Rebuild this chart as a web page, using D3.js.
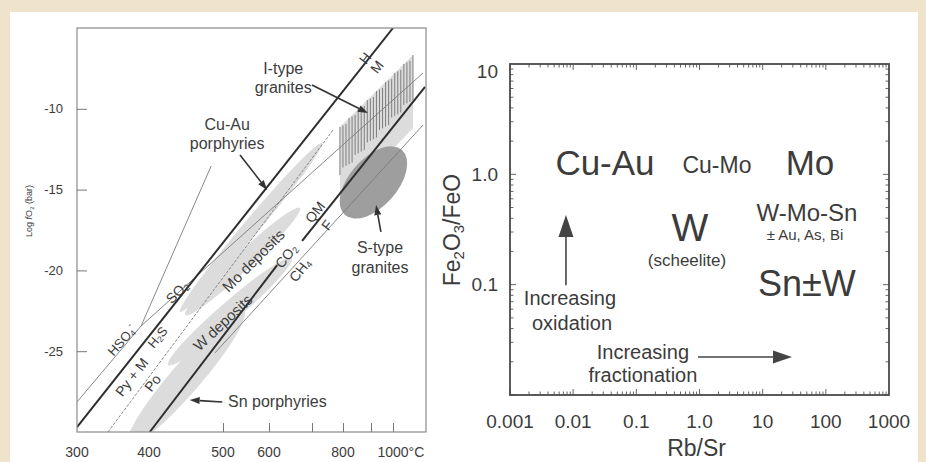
<!DOCTYPE html>
<html><head><meta charset="utf-8">
<script src="https://cdn.jsdelivr.net/npm/d3@7"></script>
<style>
body{margin:0;background:#efe4cb}
svg{display:block}
text{font-family:"Liberation Sans",Arial,Helvetica,sans-serif;fill:#3c3c3c}
</style></head>
<body><svg id="c" width="926" height="462"></svg>
<script>
// ================= DATA : left panel (log fO2 vs T) =================
const tempLabelVals = [300, 400, 500, 600, 800, 1000];
const tempLabelText = ["300", "400", "500", "600", "800", "1000"];
const tempTickMarks = [500, 600, 700, 800, 900, 1000];
const logfO2Ticks = [-10, -15, -20, -25];

// buffer lines, endpoints as [T °C, log fO2]
const thickLines = [
  [[300, -29.7], [1000, -5]],        // HM
  [[401, -30], [619, -19.67]],       // FMQ (below CO2 label)
  [[677, -18.18], [1165, -8.65]]     // FMQ (upper part)
];
const thinLines = [
  [[300, -28.14], [389, -23.44]],    // HSO4- / H2S
  [[389, -23.44], [484, -13.54]],    // HSO4- / SO2
  [[389, -23.44], [1155, -7.78]],    // SO2 / H2S
  [[489, -25.11], [1155, -11.0]]     // CO2 / CH4
];
const dashedLines = [
  [[343, -30], [768, -11.31]]        // Py+M / Po
];
// elongated fields: axis end points [T, logfO2]
const fieldNames = ["Cu-Au porphyries", "Mo deposits", "W deposits", "Sn porphyries"];
const fieldEnds = [
  [[442, -22.57], [732, -12.12]],
  [[449, -22.76], [672, -16.14]],
  [[426, -25.85], [653, -19.23]],
  [[371, -30.8], [546, -22.45]]
];
const sTypeEnds = [[807, -16.57], [1046, -12.55]];
const iTypeField = [[790, -11.13], [1103, -6.67], [1103, -11.19], [790, -15.95]];
const iTypeHatchTop = [[790, -11.13], [1103, -6.67]];
const iTypeHatchBottom = [[790, -14.10], [1103, -9.46]];

const arrowsLeft = [
  [[700, -8.53], [889, -10.26]],     // I-type
  [[537, -12.86], [596, -15.02]],    // Cu-Au
  [[945, -17.62], [923, -15.95]],    // S-type
  [[499, -28.14], [455, -28.02]]     // Sn
];
const plainLabels = ["I-type", "granites", "Cu-Au", "porphyries", "S-type", "granites"];
const plainT = [633, 633, 509, 509, 941, 941];
const plainY = [-7.48, -8.71, -11.0, -12.12, -18.6, -19.79];
const snLabel = {text: "Sn porphyries", T: 511, y: -28.14};

const rotLabels = ["H", "M", "QM", "F", "CO_2", "CH_4", "SO_2", "H_2S", "HSO_4^-", "Py + M", "Po", "Mo deposits", "W deposits"];
const rotT = [879, 927, 710, 748, 640, 672, 438, 411, 362, 376, 405, 565, 499];
const rotY = [-6.86, -7.41, -16.39, -17.19, -19.11, -19.98, -21.34, -24.12, -24.31, -26.6, -26.97, -19.36, -23.19];

// ================= DATA : right panel (Fe2O3/FeO vs Rb/Sr) =================
const rbsrTicks = [0.001, 0.01, 0.1, 1, 10, 100, 1000];
const rbsrTickLabels = ["0.001", "0.01", "0.1", "1.0", "10", "100", "1000"];
const feTicks = [0.1, 1, 10];
const feTickLabels = ["0.1", "1.0", "10"];
const depLabels = ["Cu-Au", "Cu-Mo", "Mo", "W", "(scheelite)", "W-Mo-Sn", "± Au, As, Bi", "Sn±W"];
const depRbSr = [0.0319, 1.89, 56.1, 0.706, 0.634, 50.3, 46.8, 50.3];
const depFe = [1.27, 1.22, 1.27, 0.327, 0.167, 0.447, 0.282, 0.1035];
const trendLabels = ["Increasing", "oxidation", "Increasing", "fractionation"];
const trendRbSr = [0.0089, 0.0096, 0.127, 0.127];
const trendFe = [0.0757, 0.045, 0.0245, 0.0152];
const oxidArrow = [[0.00769, 0.099], [0.00769, 0.428]];
const fracArrow = [[0.946, 0.0221], [29.1, 0.0221]];

// ================= DRAWING =================
const svg = d3.select("#c");
svg.append("rect").attr("x", 10).attr("y", 12).attr("width", 908).attr("height", 450).attr("fill", "#fff");

function rich(sel, s) {
  let i = 0, shift = 0;
  const parts = [];
  while (i < s.length) {
    const c = s[i];
    if ((c === "_" || c === "^") && i + 1 < s.length) { parts.push([s[i + 1], c]); i += 2; }
    else { if (parts.length && parts[parts.length - 1][1] === "n") parts[parts.length - 1][0] += c; else parts.push([c, "n"]); i++; }
  }
  const fs = parseFloat(sel.attr("font-size")) || 14;
  parts.forEach(([t, k]) => {
    const want = k === "_" ? fs * 0.28 : k === "^" ? -fs * 0.35 : 0;
    const ts = sel.append("tspan").text(t).attr("dy", want - shift);
    if (k !== "n") ts.attr("font-size", fs * 0.65);
    shift = want;
  });
}

// ---------- left panel ----------
const x1 = d3.scaleLinear()
  .domain([300, 400, 500, 600, 700, 800, 900, 1000, 1170])
  .range([77, 149, 223, 269, 312, 343, 371, 393, 426]);
const y1 = d3.scaleLinear().domain([-30, -5]).range([432, 28]);
const P = p => [x1(p[0]), y1(p[1])];

const gL = svg.append("g");
svg.append("clipPath").attr("id", "clipL").append("rect")
  .attr("x", 77).attr("y", 28).attr("width", 349).attr("height", 404);
const plotL = gL.append("g").attr("clip-path", "url(#clipL)");

function ellipse(g, ends, hw, fill) {
  const a = P(ends[0]), b = P(ends[1]);
  const cx = (a[0] + b[0]) / 2, cy = (a[1] + b[1]) / 2;
  const rx = Math.hypot(b[0] - a[0], b[1] - a[1]) / 2;
  const ang = Math.atan2(b[1] - a[1], b[0] - a[0]) * 180 / Math.PI;
  g.append("ellipse").attr("cx", 0).attr("cy", 0).attr("rx", rx).attr("ry", hw)
    .attr("transform", `translate(${cx},${cy}) rotate(${ang})`).attr("fill", fill);
}
const fieldHW = [8, 9, 10, 15];
fieldEnds.forEach((e, i) => ellipse(plotL, e, fieldHW[i], "#dcdcdc"));

// I-type field
plotL.append("path").attr("d", d3.line()(iTypeField.map(P)) + "Z").attr("fill", "#dcdcdc");
// S-type
ellipse(plotL, sTypeEnds, 24, "#9e9e9e");
// hatch
{
  const t0 = P(iTypeHatchTop[0]), t1 = P(iTypeHatchTop[1]);
  const b0 = P(iTypeHatchBottom[0]), b1 = P(iTypeHatchBottom[1]);
  const n = Math.round((t1[0] - t0[0]) / 3);
  for (let k = 0; k <= n; k++) {
    const f = k / n;
    const x = t0[0] + f * (t1[0] - t0[0]);
    const yt = t0[1] + f * (t1[1] - t0[1]) + (k % 3) * 1.5;
    const yb = b0[1] + f * (b1[1] - b0[1]) - ((k * 7) % 4) * 1.5;
    plotL.append("line").attr("x1", x).attr("x2", x).attr("y1", yt).attr("y2", yb)
      .attr("stroke", "#666").attr("stroke-width", 0.8);
  }
}

const lineGen = d3.line().x(d => x1(d[0])).y(d => y1(d[1]));
thinLines.forEach(l => plotL.append("path").attr("d", lineGen(l)).attr("fill", "none")
  .attr("stroke", "#7a7a7a").attr("stroke-width", 0.9));
dashedLines.forEach(l => plotL.append("path").attr("d", lineGen(l)).attr("fill", "none")
  .attr("stroke", "#7a7a7a").attr("stroke-width", 0.9).attr("stroke-dasharray", "3,1.5"));
thickLines.forEach(l => plotL.append("path").attr("d", lineGen(l)).attr("fill", "none")
  .attr("stroke", "#2e2e2e").attr("stroke-width", 2));

// frame
gL.append("rect").attr("x", 77).attr("y", 28).attr("width", 349).attr("height", 404)
  .attr("fill", "none").attr("stroke", "#8a8a8a").attr("stroke-width", 1.2);

// axes
const axB = gL.append("g").attr("transform", "translate(0,432)")
  .call(d3.axisBottom(x1).tickValues(tempTickMarks).tickSize(-9).tickFormat(""));
axB.select(".domain").remove();
axB.selectAll("line").attr("stroke", "#777");
const labB = gL.append("g");
tempLabelVals.forEach((v, i) => {
  const t = labB.append("text").attr("y", 452).attr("font-size", 14).attr("dominant-baseline", "central")
    .attr("fill", "#444").text(tempLabelText[i]);
  if (v === 1000) {
    const w = t.node().getComputedTextLength();
    t.attr("x", x1(v) - w / 2).attr("text-anchor", "start");
    t.append("tspan").text("°C");
  } else t.attr("x", x1(v)).attr("text-anchor", "middle");
});
const axLft = gL.append("g").attr("transform", "translate(77,0)")
  .call(d3.axisLeft(y1).tickValues(logfO2Ticks).tickSize(-10).tickPadding(14).tickFormat(d => String(d)));
axLft.select(".domain").remove();
axLft.selectAll("line").attr("stroke", "#777");
axLft.selectAll("text").attr("font-size", 13).attr("fill", "#444")
  .attr("font-family", '"Liberation Sans",Arial,sans-serif');

// y title
{
  const t = gL.append("text").attr("transform", "translate(29,211) rotate(-90)")
    .attr("text-anchor", "middle").attr("font-size", 9).attr("dominant-baseline", "central");
  t.append("tspan").text("Log ");
  t.append("tspan").text("f").attr("font-style", "italic");
  rich(t, "O_2 (bar)");
}

// arrows left
function arrow(g, a, b, len, wid, sw, col) {
  const ang = Math.atan2(b[1] - a[1], b[0] - a[0]);
  const bx = b[0] - len * Math.cos(ang), by = b[1] - len * Math.sin(ang);
  g.append("line").attr("x1", a[0]).attr("y1", a[1]).attr("x2", bx).attr("y2", by)
    .attr("stroke", col).attr("stroke-width", sw);
  const px = -Math.sin(ang) * wid / 2, py = Math.cos(ang) * wid / 2;
  g.append("path").attr("d", `M${b[0]},${b[1]}L${bx + px},${by + py}L${bx - px},${by - py}Z`).attr("fill", col);
}
arrowsLeft.forEach(a => arrow(gL, P(a[0]), P(a[1]), 10, 7, 1.6, "#333"));

// labels left
plainLabels.forEach((t, i) => gL.append("text").attr("x", x1(plainT[i])).attr("y", y1(plainY[i]))
  .attr("text-anchor", "middle").attr("dominant-baseline", "central").attr("font-size", 16).text(t));
gL.append("text").attr("x", x1(snLabel.T)).attr("y", y1(snLabel.y)).attr("dominant-baseline", "central")
  .attr("font-size", 16).text(snLabel.text);

const rotAngles = [-52, -52, -52, -52, -52, -52, -45, -50, -48, -52, -52, -45, -43];
const rotSizes = [14, 14, 14, 14, 14, 14, 14, 13, 13, 14, 14, 15, 15];
rotLabels.forEach((s, i) => {
  const t = gL.append("text").attr("font-size", rotSizes[i]).attr("text-anchor", "middle")
    .attr("dominant-baseline", "central")
    .attr("transform", `translate(${x1(rotT[i])},${y1(rotY[i])}) rotate(${rotAngles[i]})`);
  rich(t, s);
});

// ---------- right panel ----------
const x2 = d3.scaleLog().domain([0.001, 1000]).range([510, 889]);
const y2 = d3.scaleLog().domain([0.01, 10]).range([395, 64]);
const gR = svg.append("g");

// minor/major ticks on all sides
const minorX = [], minorY = [];
for (let e = -3; e < 3; e++) for (let k = 1; k < 10; k++) minorX.push(k * Math.pow(10, e));
for (let e = -2; e < 1; e++) for (let k = 1; k < 10; k++) minorY.push(k * Math.pow(10, e));
const tk = gR.append("g").attr("stroke", "#666").attr("stroke-width", 1);
minorX.forEach(v => {
  const major = Math.abs(Math.log10(v) - Math.round(Math.log10(v))) < 1e-9;
  const L = major ? 6 : 3.5;
  tk.append("line").attr("x1", x2(v)).attr("x2", x2(v)).attr("y1", 395).attr("y2", 395 - L);
  tk.append("line").attr("x1", x2(v)).attr("x2", x2(v)).attr("y1", 64).attr("y2", 64 + L);
});
minorY.forEach(v => {
  const major = Math.abs(Math.log10(v) - Math.round(Math.log10(v))) < 1e-9;
  const L = major ? 6 : 3.5;
  tk.append("line").attr("y1", y2(v)).attr("y2", y2(v)).attr("x1", 510).attr("x2", 510 + L);
  tk.append("line").attr("y1", y2(v)).attr("y2", y2(v)).attr("x1", 889).attr("x2", 889 - L);
});
gR.append("rect").attr("x", 510).attr("y", 64).attr("width", 379).attr("height", 331)
  .attr("fill", "none").attr("stroke", "#4a4a4a").attr("stroke-width", 1.8);

rbsrTicks.forEach((v, i) => gR.append("text").attr("x", x2(v)).attr("y", 421)
  .attr("text-anchor", "middle").attr("dominant-baseline", "central").attr("font-size", 19)
  .attr("fill", "#505050").text(rbsrTickLabels[i]));
feTicks.forEach((v, i) => gR.append("text").attr("x", 498).attr("y", Math.max(y2(v), 71))
  .attr("text-anchor", "end").attr("dominant-baseline", "central").attr("font-size", 19)
  .attr("fill", "#505050").text(feTickLabels[i]));

gR.append("text").attr("x", x2(0.9)).attr("y", 448).attr("text-anchor", "middle")
  .attr("dominant-baseline", "central").attr("font-size", 23).attr("fill", "#444").text("Rb/Sr");
{
  const t = gR.append("text").attr("transform", "translate(452,230) rotate(-90)").attr("text-anchor", "middle")
    .attr("dominant-baseline", "central").attr("font-size", 23).attr("fill", "#444");
  rich(t, "Fe_2O_3/FeO");
}

const depSizes = [35, 23, 35, 39, 17, 24, 15, 36];
depLabels.forEach((t, i) => gR.append("text").attr("x", x2(depRbSr[i])).attr("y", y2(depFe[i]))
  .attr("text-anchor", "middle").attr("dominant-baseline", "central").attr("font-size", depSizes[i])
  .attr("fill", "#3a3a3a").text(t));
trendLabels.forEach((t, i) => gR.append("text").attr("x", x2(trendRbSr[i])).attr("y", y2(trendFe[i]))
  .attr("text-anchor", "middle").attr("dominant-baseline", "central").attr("font-size", 20)
  .attr("fill", "#4a4a4a").text(t));
const Q = p => [x2(p[0]), y2(p[1])];
arrow(gR, Q(oxidArrow[0]), Q(oxidArrow[1]), 22, 15, 1.6, "#444");
arrow(gR, Q(fracArrow[0]), Q(fracArrow[1]), 19, 13, 1.6, "#444");
</script></body></html>
